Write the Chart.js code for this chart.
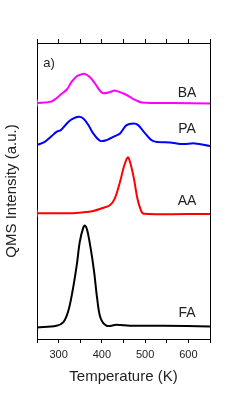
<!DOCTYPE html>
<html><head><meta charset="utf-8">
<script src="https://cdn.jsdelivr.net/npm/chart.js@4"></script>
<style>html,body{margin:0;padding:0;background:#fff}#w{width:247px;height:399px}</style>
</head><body><div id="w"><canvas id="c" width="247" height="399"></canvas></div>
<script>
// Temperature (K) and intensity (a.u., curves vertically offset as in the figure)
const baT = [250,280,292,303,319,330,342,349,359,372,384,396,403,419,430,433,450,465,473,480,492,565,650];
const baY = [236.6,237.6,240.3,244.3,250,257.6,263.3,264.5,265.8,262.6,256,248.6,246.3,247.6,249,248.6,246,242.6,240.3,239,237,236.4,236];
const paT = [250,268,284,295,305,319,330,346,357,369,380,396,411,430,442,457,473,484,500,519,557,588,615,650];
const paY = [194.3,197.6,203.3,207.6,209.3,216,220,222.6,221,214.3,206,198.6,199.3,203.3,206,214.3,216,214.3,206,198.3,197,195.3,196,193.3];
const aaT = [250,334,349,380,400,419,430,442,452,460,465,474,482,490,497,650];
const aaY = [126,126,126.6,128.3,131,134.3,141,157.6,174.3,182,177.6,161,141,129.3,125.6,125.3];
const faT = [250,295,311,322,332,342,349,357,361,366,374,382,389,397,411,434,465,542,650];
const faY = [11.6,13.3,17,27.6,47.6,74.3,97.6,111.6,113.6,109.3,91,67.6,41,21,13.3,14.3,13.3,13.3,12.6];
const seriesNames = ['BA','PA','AA','FA'];
const seriesColors = ['#ff00ff','#0000ff','#ff0000','#000000'];
const labelT = [597,597,597,597];
const labelY = [246.3,210,137.8,26.3];
const panelLabel = 'a)';
const panelT = 264.6, panelY = 276;
const xTicks = [250,300,350,400,450,500,550,600,650];
const xMin = 250, xMax = 650, yMin = 0, yMax = 296.6;

Chart.defaults.font.family = '"Liberation Sans", Arial, sans-serif';
Chart.defaults.color = '#222';

function pts(t, y){ return t.map((v,i)=>({x:v,y:y[i]})); }
const allT=[baT,paT,aaT,faT], allY=[baY,paY,aaY,faY];

const labelsPlugin = {
  id:'labels',
  afterDatasetsDraw(chart){
    const {ctx, scales:{x,y}} = chart;
    ctx.save();
    ctx.fillStyle = '#222';
    ctx.font = '14px "Liberation Sans", Arial, sans-serif';
    ctx.textAlign = 'center'; ctx.textBaseline = 'middle';
    seriesNames.forEach((n,i)=>ctx.fillText(n, x.getPixelForValue(labelT[i]), y.getPixelForValue(labelY[i])));
    ctx.textAlign = 'left';
    ctx.font = '13px "Liberation Sans", Arial, sans-serif';
    ctx.fillText(panelLabel, x.getPixelForValue(panelT), y.getPixelForValue(panelY));
    ctx.restore();
  }
};

new Chart(document.getElementById('c'), {
  type:'line',
  data:{datasets: seriesNames.map((n,i)=>({
    label:n, data:pts(allT[i],allY[i]), borderColor:seriesColors[i], backgroundColor:seriesColors[i],
    borderWidth:2, tension:0.35, fill:false,
    pointStyle:'line', rotation:90,
    pointRadius:(c)=> (c.dataIndex===0 && (i===0||i===2)) ? 3.5 : 0,
    pointBorderWidth:2, pointHoverRadius:0
  }))},
  options:{
    responsive:false, animation:false, events:[],
    layout:{padding:0},
    plugins:{legend:{display:false}, tooltip:{enabled:false}},
    scales:{
      x:{type:'linear', position:'bottom', min:xMin, max:xMax,
        afterBuildTicks:(s)=>{s.ticks = xTicks.map(v=>({value:v}));},
        afterFit:(s)=>{s.height=60;},
        grid:{drawOnChartArea:false, tickLength:4, color:'#000'},
        border:{display:true, color:'#000', width:1},
        ticks:{autoSkip:false, maxRotation:0, padding:5, font:{size:11}, color:'#222',
          callback:(v)=> (v%100===0 && v>xMin && v<xMax) ? String(v) : ''},
        title:{display:true, text:'Temperature (K)', font:{size:15}, color:'#222', padding:{top:0,bottom:13}}
      },
      x2:{type:'linear', position:'top', min:xMin, max:xMax,
        afterBuildTicks:(s)=>{s.ticks = xTicks.map(v=>({value:v}));},
        afterFit:(s)=>{s.height=43;},
        grid:{drawOnChartArea:false, tickLength:4, color:'#000'},
        border:{display:true, color:'#000', width:1},
        ticks:{display:false}
      },
      y:{type:'linear', position:'left', min:yMin, max:yMax,
        afterFit:(s)=>{s.width=37;},
        grid:{display:false},
        border:{display:true, color:'#000', width:1},
        ticks:{display:false},
        title:{display:true, text:'QMS Intensity (a.u.)', font:{size:15}, color:'#222', padding:{top:3,bottom:0}}
      },
      y2:{type:'linear', position:'right', min:yMin, max:yMax,
        afterFit:(s)=>{s.width=37;},
        grid:{display:false},
        border:{display:true, color:'#000', width:1},
        ticks:{display:false}
      }
    }
  },
  plugins:[labelsPlugin]
});
</script></body></html>
